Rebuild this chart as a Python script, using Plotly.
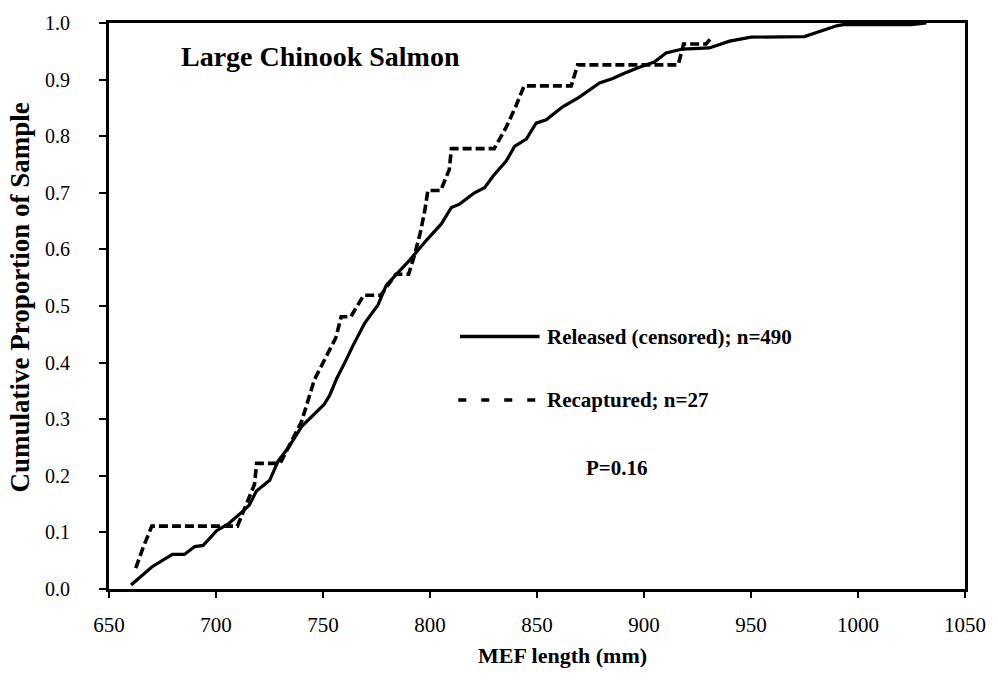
import plotly.graph_objects as go

# Released (censored) cumulative curve, n=490
rel_len = [660.3, 670, 679.6, 685.2, 690.1, 694, 700.3, 705.7, 711.9, 715.5, 718.9, 725.1, 729, 733.7,
           740, 750.5, 753.1, 756.3, 760.2, 764, 769.5, 775.7, 779.6, 790.5, 798.3, 805.3, 810, 813.8,
           820.8, 825.5, 829.6, 835.6, 839.5, 845, 849.6, 854.3, 862, 869.8, 879.2, 885.4, 890, 897.8,
           904.8, 910.3, 918, 930.5, 940, 950, 975, 990, 993, 1025, 1032]
rel_prop = [0.007, 0.039, 0.061, 0.061, 0.075, 0.077, 0.103, 0.115, 0.135, 0.148, 0.173, 0.192, 0.226, 0.249,
            0.287, 0.326, 0.342, 0.371, 0.400, 0.43, 0.47, 0.502, 0.537, 0.581, 0.616, 0.645, 0.674, 0.680,
            0.700, 0.709, 0.730, 0.756, 0.782, 0.795, 0.823, 0.829, 0.852, 0.869, 0.894, 0.902, 0.910, 0.922,
            0.931, 0.947, 0.954, 0.956, 0.968, 0.975, 0.976, 0.995, 0.997, 0.997, 1.0]

# Recaptured cumulative curve, n=27
rec_len = [662.5, 666, 670, 710, 714, 718, 719, 730, 735, 740, 743, 746, 751, 756, 758.5, 763, 769, 777,
           784, 790, 793, 795.5, 797.5, 799, 805, 809, 810, 830, 835.5, 840, 844, 866, 869, 916, 918.5,
           929, 931.5]
rec_prop = [0.037, 0.074, 0.111, 0.111, 0.148, 0.185, 0.222, 0.222, 0.259, 0.296, 0.333, 0.370, 0.407,
            0.444, 0.481, 0.481, 0.519, 0.519, 0.556, 0.556, 0.593, 0.630, 0.667, 0.704, 0.704, 0.741,
            0.778, 0.778, 0.815, 0.852, 0.889, 0.889, 0.926, 0.926, 0.963, 0.963, 0.974]

x_ticks = [650, 700, 750, 800, 850, 900, 950, 1000, 1050]
y_ticks = [0.0, 0.1, 0.2, 0.3, 0.4, 0.5, 0.6, 0.7, 0.8, 0.9, 1.0]

FONT = "Liberation Serif, Times New Roman, serif"

fig = go.Figure()
fig.add_trace(go.Scatter(x=rel_len, y=rel_prop, mode="lines",
                         line=dict(color="black", width=3.2), showlegend=False))
fig.add_trace(go.Scatter(x=rec_len, y=rec_prop, mode="lines",
                         line=dict(color="black", width=3.6, dash="9px,4px"), showlegend=False))

# manual legend
fig.add_shape(type="line", xref="paper", yref="paper", x0=0.410, x1=0.503, y0=0.446, y1=0.446,
              line=dict(color="black", width=3.5))
fig.add_shape(type="line", xref="paper", yref="paper", x0=0.408, x1=0.503, y0=0.334, y1=0.334,
              line=dict(color="black", width=3.5, dash="8px,15px"))
fig.add_annotation(xref="paper", yref="paper", x=0.509, y=0.446, xanchor="left", yanchor="middle",
                   text="<b>Released (censored); n=490</b>", showarrow=False,
                   font=dict(family=FONT, size=21, color="black"))
fig.add_annotation(xref="paper", yref="paper", x=0.509, y=0.334, xanchor="left", yanchor="middle",
                   text="<b>Recaptured; n=27</b>", showarrow=False,
                   font=dict(family=FONT, size=21, color="black"))
fig.add_annotation(xref="paper", yref="paper", x=0.594, y=0.213, xanchor="center", yanchor="middle",
                   text="<b>P=0.16</b>", showarrow=False,
                   font=dict(family=FONT, size=21, color="black"))
fig.add_annotation(xref="paper", yref="paper", x=0.247, y=0.94, xanchor="center", yanchor="middle",
                   text="<b>Large Chinook Salmon</b>", showarrow=False,
                   font=dict(family=FONT, size=28, color="black"))
# axis titles
fig.add_annotation(xref="paper", yref="paper", x=0.53, y=-0.117, xanchor="center", yanchor="middle",
                   text="<b>MEF length (mm)</b>", showarrow=False,
                   font=dict(family=FONT, size=22, color="black"))
fig.add_annotation(xref="paper", yref="paper", x=-0.104, y=0.515, xanchor="center", yanchor="middle",
                   text="<b>Cumulative Proportion of Sample</b>", showarrow=False, textangle=-90,
                   font=dict(family=FONT, size=27, color="black"))

fig.update_layout(
    width=998, height=681,
    margin=dict(l=109, r=32, t=17, b=92),
    paper_bgcolor="white", plot_bgcolor="white",
    font=dict(family=FONT, color="black", size=19),
)
fig.update_xaxes(range=[650, 1050], tickvals=x_ticks, ticktext=[str(v) for v in x_ticks],
                 showgrid=False, zeroline=False, showline=True, linewidth=3, linecolor="black",
                 mirror=True, ticks="outside", ticklen=6, tickwidth=1.5, tickcolor="black",
                 ticklabelstandoff=9, tickfont=dict(family=FONT, size=21, color="black"))
fig.update_yaxes(range=[0, 1.0], tickvals=y_ticks, ticktext=[f"{v:.1f}" for v in y_ticks],
                 showgrid=False, zeroline=False, showline=True, linewidth=3, linecolor="black",
                 mirror=True, ticks="outside", ticklen=7, tickwidth=1.5, tickcolor="black",
                 ticklabelstandoff=25, tickfont=dict(family=FONT, size=20, color="black"))

fig.write_html("out.html")
